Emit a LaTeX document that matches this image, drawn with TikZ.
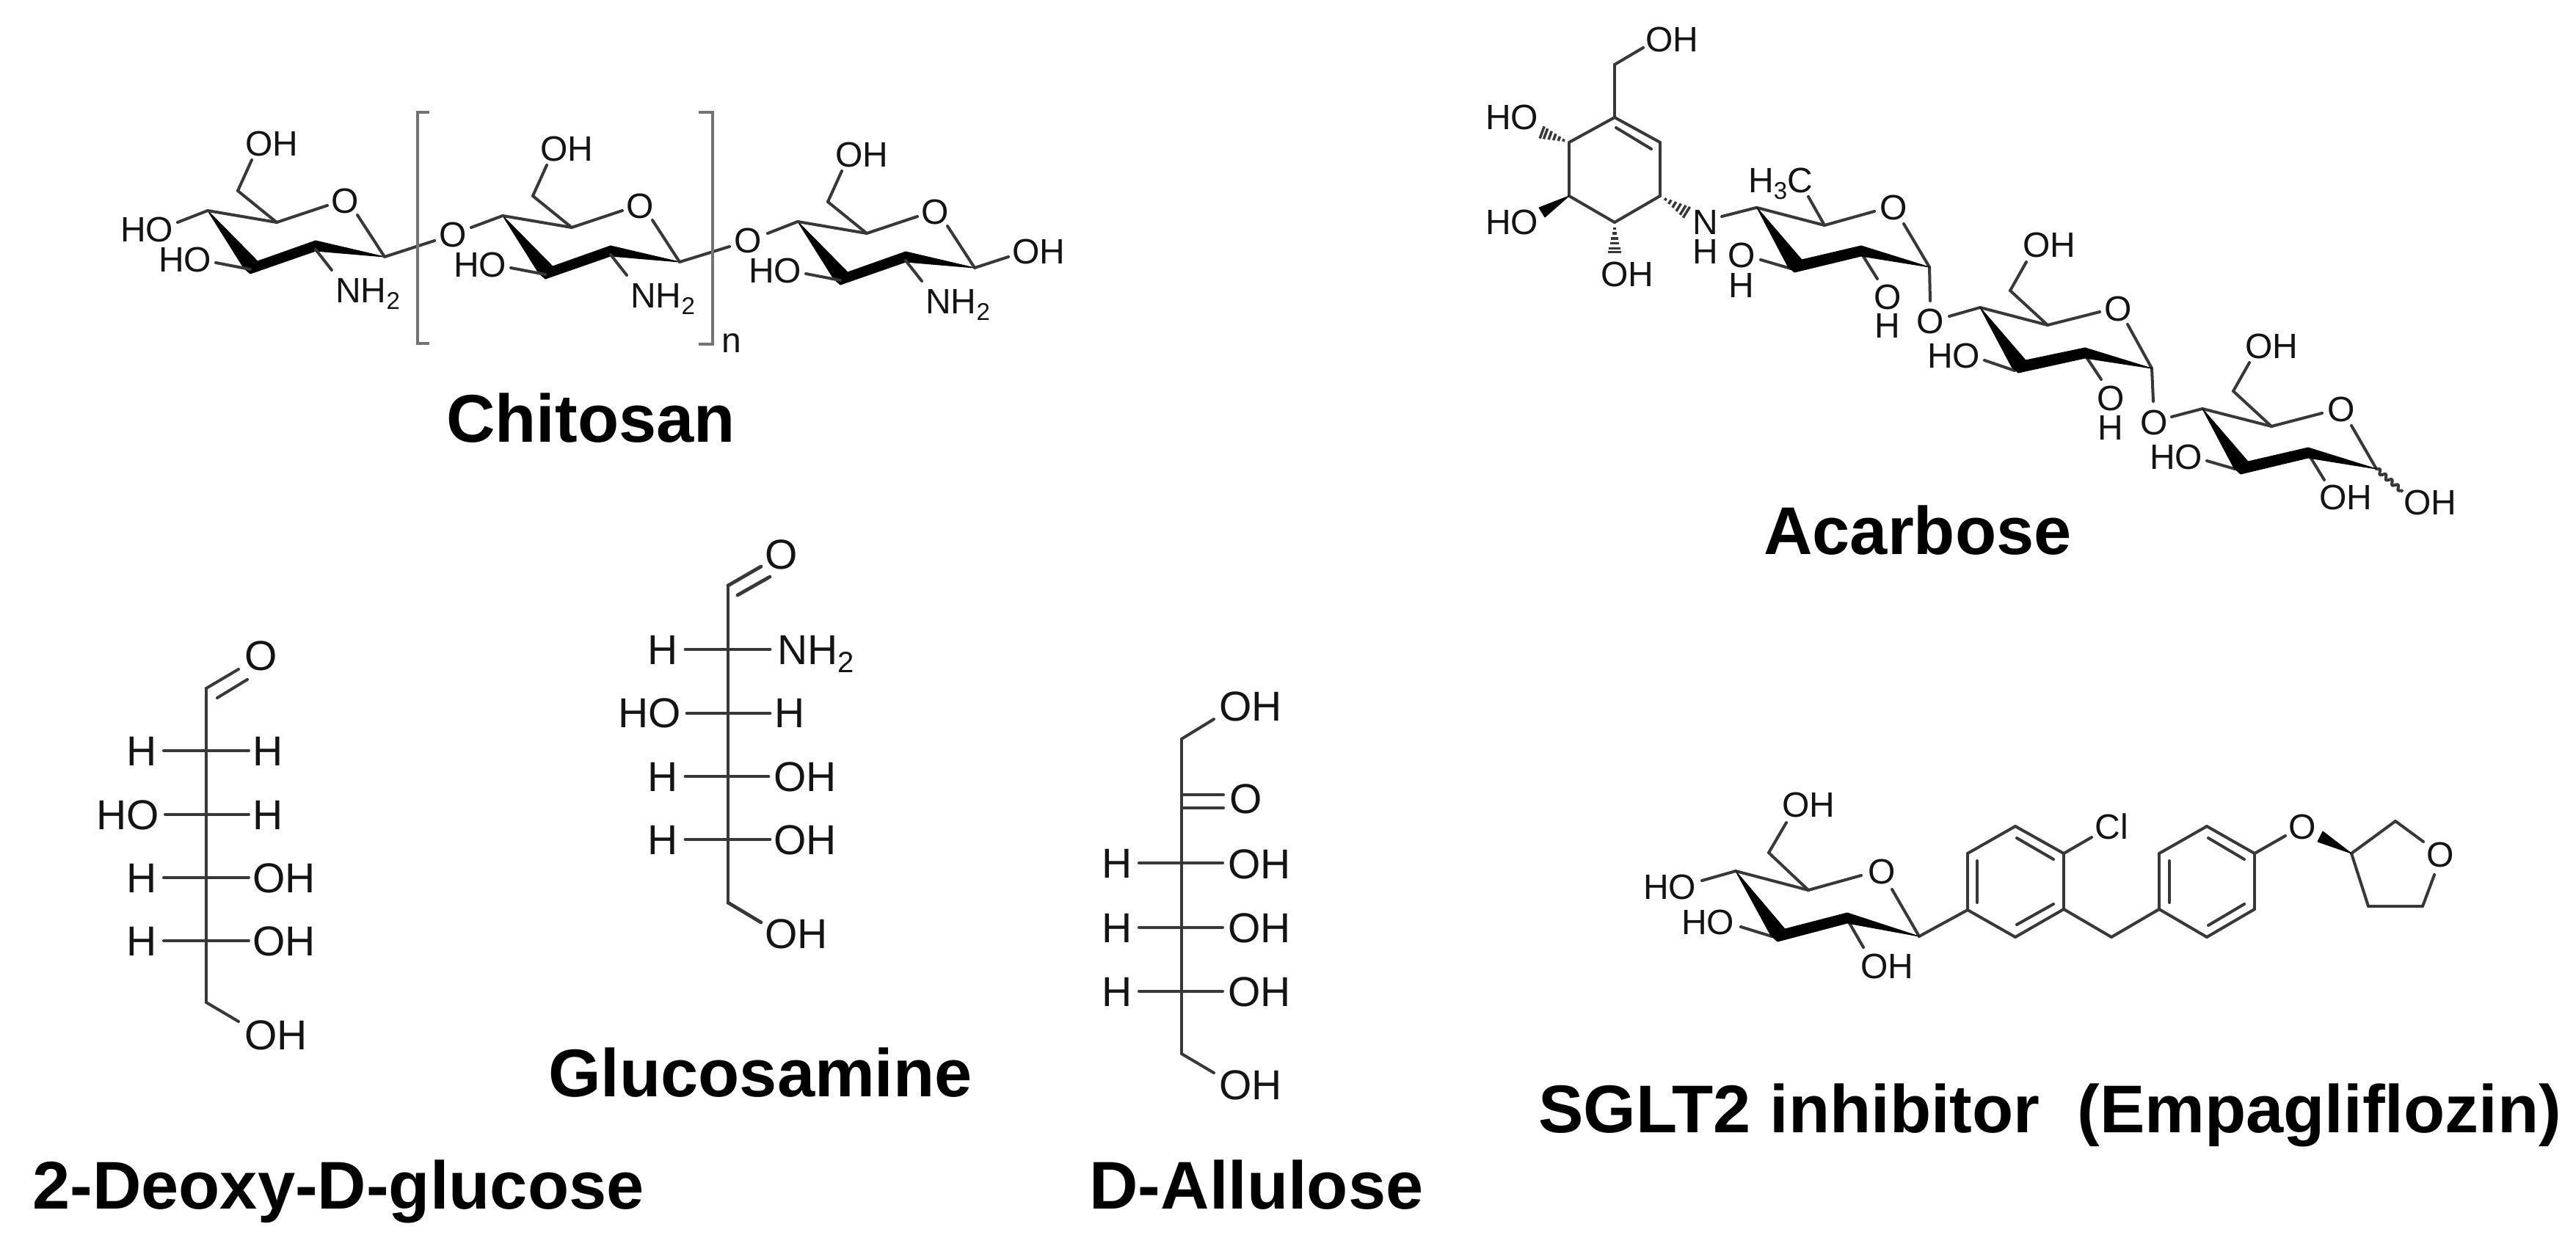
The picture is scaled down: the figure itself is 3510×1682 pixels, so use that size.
\documentclass[tikz,border=0pt]{standalone}
\usepackage{fontspec}
\setmainfont{Liberation Sans}
\usetikzlibrary{calc,decorations.pathmorphing}
\def\ox{0}\def\oy{0}
\newcommand\pts[1]{\foreach \n/\x/\y in {#1} {\coordinate (\n) at ({\x+\ox},{\y+\oy});}}
\newcommand\bonds[1]{\foreach \a/\b in {#1} {\draw[bondline] (\a)--(\b);}}
\newcommand\thickbonds[1]{\foreach \a/\b in {#1} {\draw[bondline,line width=4.8pt] (\a)--(\b);}}
\newcommand\band[4]{\fill[wedgefill] (#1) -- ($(#2)+(10,-11)$) -- ($(#3)+(0,-7)$) -- (#4) -- ($(#3)+(0,7)$) -- ($(#2)+(0,6)$) -- ($(#2)+(-9,-2)$) -- cycle;}
\newcommand\hashes[2]{\foreach \t in {.2,.36,.52,.68,.84,.97} {\pgfmathsetmacro\w{\t*9}\draw[hashline] ($(#1)!\t!(#2)!\w pt!90:(#2)$) -- ($(#1)!\t!(#2)!\w pt!-90:(#2)$);}}
\newcommand\subnum[1]{\raisebox{-9pt}{\fontsize{33}{33}\selectfont #1}}
\newcommand\bigsub[1]{\raisebox{-11pt}{\fontsize{40}{40}\selectfont #1}}
\tikzset{
  bondline/.style={draw=black!78,line width=4pt,line cap=round,line join=round},
  hashline/.style={draw=black!78,line width=3.5pt},
  wedgefill/.style={fill=black,draw=black,line width=1pt,line join=round},
  atom/.style={inner sep=0pt,text=black!92,font=\fontsize{48}{48}\selectfont,text height=34.4pt,text depth=0pt},
  fatom/.style={inner sep=0pt,text=black!92,font=\fontsize{57}{57}\selectfont,text height=40.8pt,text depth=0pt},
  title/.style={inner sep=0pt,text=black,font=\bfseries\fontsize{92}{92}\selectfont,text height=66pt,text depth=0pt},
  bracketline/.style={draw=black!55,line width=4pt,line join=miter}
}
% one chitosan repeat unit, offset by \ox,\oy
\newcommand\chitunit[1]{
  \pts{#1c4/283/287,#1c5/377/303,#1c1/524/350,#1c2/430/335,#1c3/341/367,#1ch/324/260,#1eo/343/218,
       #1ea/294/358,#1eb/452/368,#1ec/446/280,#1ed/487/293,#1b/430/340}
  \band{#1c4}{#1c3}{#1c2}{#1c1}
  \bonds{#1c4/#1c5,#1c5/#1ec,#1ed/#1c1,#1c5/#1ch,#1ch/#1eo,#1c3/#1ea,#1b/#1eb}
  \node[atom] (#1ro) at ({470+\ox},{273+\oy}) {O};
  \node[atom] (#1oh) at ({370+\ox},{195+\oy}) {OH};
  \node[atom] (#1ho) at ({252+\ox},{353+\oy}) {HO};
  \node[atom,anchor=base west] (#1nh) at ({457+\ox},{412+\oy}) {NH\subnum{2}};
}
\begin{document}
\begin{tikzpicture}[x=1pt,y=-1pt]
\useasboundingbox (0,0) rectangle (3510,1682);
\fill[white] (0,0) rectangle (3510,1682);

%% Chitosan
\chitunit{u}
\def\ox{402}\def\oy{7}
\chitunit{v}
\def\ox{804}\def\oy{15}
\chitunit{w}
\def\ox{0}\def\oy{0}
\pts{ua/242/303,lb1/592/328,lb2/642/310,lc1/994/336,lc2/1046/318,wr/1374/350,
     bl1/585/153,bl2/569/153,bl3/569/468,bl4/585/468,br1/952/153,br2/971/153,br3/971/469,br4/952/469}
\node[atom] (uhoa) at (200,312) {HO};
\node[atom] (lo1) at (617,319) {O};
\node[atom] (lo2) at (1019,327) {O};
\node[atom] (woh) at (1415,342) {OH};
\node[atom,anchor=base west] (nidx) at (983,480) {n};
\bonds{ua/uc4,uc1/lb1,lb2/vc4,vc1/lc1,lc2/wc4,wc1/wr}
\draw[bracketline] (bl1)--(bl2)--(bl3)--(bl4);
\draw[bracketline] (br1)--(br2)--(br3)--(br4);
\node[title] (tchit) at (805,569) {Chitosan};

%% Acarbose: cyclohexene
\pts{ab0/2239/65,ab1/2200/88,ab2/2200/160,ab3/2262/194,ab4/2262/267,ab5/2200/303,ab6/2138/267,ab7/2138/194,
     ai1/2202/174,ai2/2250/203,ah1/2100/180,ah2/2200/345,ah3/2299/290,aw1/2097/283,aw2/2105/296,
     an1/2346/295,an2/2393/283,ame/2464/268,
     a1c4/2394/283,a1c5/2486/307,a1e/2554/288,a1f/2594/305,a1c1/2629/364,a1c2/2536/342,a1c3/2445/365,
     a1g/2399/354,a1h/2440/366,a1i/2538/348,a1j/2558/380,a1k/2630/410,a1l/2656/431,
     a2c4/2698/419,a2c5/2790/443,a2ch/2739/396,a2oe/2761/357,a2e/2861/425,a2f/2899/442,a2c1/2932/502,a2c2/2841/481,a2c3/2750/502,
     a2g/2704/491,a2h/2745/505,a2i/2843/487,a2j/2863/517,a2k/2934/547,a2l/2959/568,
     a3c4/3001/557,a3c5/3095/581,a3ch/3043/533,a3oe/3065/494,a3e/3164/563,a3f/3204/580,a3c1/3238/639,a3c2/3145/617,a3c3/3053/640,
     a3g/3007/628,a3h/3045/639,a3i/3148/623,a3j/3167/654,a3w/3274/670}
\bonds{ab0/ab1,ab1/ab2,ab2/ab3,ab3/ab4,ab4/ab5,ab5/ab6,ab6/ab7,ab7/ab2,ai1/ai2,
       an1/an2,ame/a1c5,a1c4/a1c5,a1c5/a1e,a1f/a1c1,a1g/a1h,a1i/a1j,a1c1/a1k,a1l/a2c4,
       a2c4/a2c5,a2c5/a2ch,a2ch/a2oe,a2c5/a2e,a2f/a2c1,a2g/a2h,a2i/a2j,a2c1/a2k,a2l/a3c4,
       a3c4/a3c5,a3c5/a3ch,a3ch/a3oe,a3c5/a3e,a3f/a3c1,a3g/a3h,a3i/a3j}
\hashes{ab7}{ah1}
\hashes{ab5}{ah2}
\hashes{ab4}{ah3}
\fill[wedgefill] (ab6)--(aw1)--(aw2)--cycle;
\band{a1c4}{a1c3}{a1c2}{a1c1}
\band{a2c4}{a2c3}{a2c2}{a2c1}
\band{a3c4}{a3c3}{a3c2}{a3c1}
\draw[bondline,line cap=butt,decorate,decoration={snake,segment length=11pt,amplitude=3pt}] (a3c1)--(a3w);
\node[atom] (aoh1) at (2278,53) {OH};
\node[atom] (aho1) at (2060,159) {HO};
\node[atom] (aho2) at (2060,302) {HO};
\node[atom] (aoh2) at (2217,373) {OH};
\node[atom] (an) at (2324,302) {N};
\node[atom] (anh) at (2324,342) {H};
\node[atom,anchor=base west] (ame3) at (2382,262) {H\subnum{3}C};
\node[atom] (a1o) at (2580,282) {O};
\node[atom] (a1oo) at (2373,347) {O};
\node[atom] (a1oh) at (2373,388) {H};
\node[atom] (a1po) at (2572,404) {O};
\node[atom] (a1ph) at (2572,443) {H};
\node[atom] (a1x) at (2630,437) {O};
\node[atom] (a2oh) at (2792,333) {OH};
\node[atom] (a2o) at (2886,420) {O};
\node[atom] (a2ho) at (2662,484) {HO};
\node[atom] (a2po) at (2876,542) {O};
\node[atom] (a2ph) at (2876,582) {H};
\node[atom] (a2x) at (2935,575) {O};
\node[atom] (a3oh) at (3095,471) {OH};
\node[atom] (a3o) at (3190,557) {O};
\node[atom] (a3ho) at (2965,622) {HO};
\node[atom] (a3po) at (3196,677) {OH};
\node[atom] (a3w2) at (3311,684) {OH};
\node[title] (tacar) at (2613,722) {Acarbose};

%% 2-Deoxy-D-glucose
\pts{d0/281/938,d1/281/1366,dq1/325/912,dq2/296/951,dq3/337/926,de/325/1392,
     dl1/223/1023,dr1/339/1023,dl2/225/1110,dr2/339/1110,dl3/223/1196,dr3/339/1196,dl4/223/1282,dr4/339/1282}
\bonds{d0/d1,d0/dq1,dq2/dq3,d1/de,dl1/dr1,dl2/dr2,dl3/dr3,dl4/dr4}
\node[fatom] (do) at (356,893) {O};
\node[fatom] (dh1) at (193,1023) {H};
\node[fatom] (dh2) at (365,1023) {H};
\node[fatom] (dho) at (174,1110) {HO};
\node[fatom] (dh3) at (365,1110) {H};
\node[fatom] (dh4) at (193,1196) {H};
\node[fatom] (do1) at (387,1196) {OH};
\node[fatom] (dh5) at (193,1282) {H};
\node[fatom] (do2) at (387,1282) {OH};
\node[fatom] (do3) at (376,1410) {OH};
\node[title] (tdeoxy) at (461,1614) {2-Deoxy-D-glucose};

%% Glucosamine
\pts{g0/992/798,g1/992/1230,gq1/1037/772,gq2/1005/811,gq3/1049/786,ge/1037/1257,
     gl1/934/885,gr1/1049/885,gl2/936/972,gr2/1049/972,gl3/934/1058,gr3/1047/1058,gl4/934/1144,gr4/1049/1144}
\thickbonds{g0/g1,g0/gq1,gq2/gq3,g1/ge,gl1/gr1,gl2/gr2,gl3/gr3,gl4/gr4}
\node[fatom] (go) at (1065,755) {O};
\node[fatom] (gh1) at (903,885) {H};
\node[fatom,anchor=base west] (gnh) at (1059,905) {NH\bigsub{2}};
\node[fatom] (gho) at (885,971) {HO};
\node[fatom] (gh2) at (1076,971) {H};
\node[fatom] (gh3) at (903,1058) {H};
\node[fatom] (go1) at (1097,1058) {OH};
\node[fatom] (gh4) at (903,1144) {H};
\node[fatom] (go2) at (1097,1144) {OH};
\node[fatom] (go3) at (1085,1272) {OH};
\node[title] (tgluc) at (1036,1461) {Glucosamine};

%% D-Allulose
\pts{p0/1610/1007,p1/1610/1436,pe0/1654/980,pe1/1654/1462,pa1/1610/1083,pb1/1667/1083,pa2/1610/1101,pb2/1667/1101,
     pl1/1552/1176,pr1/1666/1176,pl2/1552/1264,pr2/1666/1264,pl3/1552/1351,pr3/1666/1351}
\bonds{p0/p1,p0/pe0,p1/pe1,pa1/pb1,pa2/pb2,pl1/pr1,pl2/pr2,pl3/pr3}
\node[fatom] (po0) at (1704,962) {OH};
\node[fatom] (pco) at (1698,1088) {O};
\node[fatom] (ph1) at (1522,1176) {H};
\node[fatom] (po1) at (1716,1177) {OH};
\node[fatom] (ph2) at (1522,1264) {H};
\node[fatom] (po2) at (1716,1264) {OH};
\node[fatom] (ph3) at (1522,1351) {H};
\node[fatom] (po3) at (1716,1351) {OH};
\node[fatom] (po4) at (1704,1478) {OH};
\node[title] (tallu) at (1712,1614) {D-Allulose};

%% Empagliflozin
\pts{ec4/2365/1187,ec5/2464/1213,ech/2410/1162,eoe/2434/1121,ea/2319/1200,ere/2536/1193,erf/2578/1212,
     ec1/2615/1276,ec2/2517/1251,ec3/2422/1277,eg/2372/1263,eh/2414/1276,ei/2520/1258,ej/2539/1291,
     h1/2681/1240,h2/2681/1163,h3/2746/1126,h4/2812/1163,h5/2812/1239,h6/2746/1277,
     hi1/2694/1173,hi2/2694/1230,hi3/2748/1142,hi4/2798/1171,hi5/2748/1260,hi6/2798/1232,
     cle/2850/1141,mid/2877/1277,
     k1/2942/1239,k2/2942/1163,k3/3007/1126,k4/3072/1163,k5/3072/1239,k6/3007/1277,
     ki1/2956/1173,ki2/2956/1230,ki3/3009/1142,ki4/3058/1171,ki5/3009/1261,ki6/3058/1232,
     oe/3114/1139,ww1/3165/1133,ww2/3158/1147,
     f1/3204/1163,f2/3264/1119,f3/3302/1147,f4/3317/1192,f5/3301/1235,f6/3227/1235}
\bonds{ec4/ec5,ec5/ech,ech/eoe,ea/ec4,ec5/ere,erf/ec1,eg/eh,ei/ej,ec1/h1,
       h1/h2,h2/h3,h3/h4,h4/h5,h5/h6,h6/h1,hi1/hi2,hi3/hi4,hi5/hi6,h4/cle,h5/mid,mid/k1,
       k1/k2,k2/k3,k3/k4,k4/k5,k5/k6,k6/k1,ki1/ki2,ki3/ki4,ki5/ki6,k4/oe,
       f1/f2,f2/f3,f4/f5,f5/f6,f6/f1}
\band{ec4}{ec3}{ec2}{ec1}
\fill[wedgefill] (f1)--(ww1)--(ww2)--cycle;
\node[atom] (eoh0) at (2464,1096) {OH};
\node[atom] (eho1) at (2275,1208) {HO};
\node[atom] (eho2) at (2327,1256) {HO};
\node[atom] (ero) at (2564,1187) {O};
\node[atom] (eoh1) at (2571,1316) {OH};
\node[atom] (ecl) at (2877,1126) {Cl};
\node[atom] (eox) at (3137,1126) {O};
\node[atom] (efo) at (3325,1164) {O};
\node[title] (tsglt) at (2793,1510) {SGLT2 inhibitor\ \ (Empagliflozin)};
\end{tikzpicture}
\end{document}
